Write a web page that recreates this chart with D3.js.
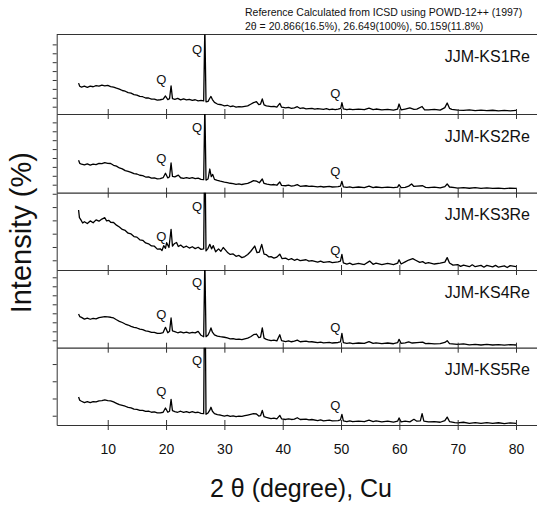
<!DOCTYPE html>
<html>
<head>
<meta charset="utf-8">
<script src="https://cdn.jsdelivr.net/npm/d3@7"></script>
<style>
  body { margin: 0; background: #fff; }
  svg { display: block; font-family: "Liberation Sans", Arial, sans-serif; }
</style>
</head>
<body>
<svg class="xrd"></svg>
<script>
// sample names, top to bottom
const samples = ["JJM-KS1Re", "JJM-KS2Re", "JJM-KS3Re", "JJM-KS4Re", "JJM-KS5Re"];

// x ticks (2 theta)
const xTicks = [10, 20, 30, 40, 50, 60, 70, 80];

// y ticks per panel (no labels drawn)
const yTicks = [
  [10, 20, 30, 40, 50, 60, 70, 80],
  [10, 20, 30, 40, 50, 60, 70, 80],
  [10, 20, 30, 40, 50, 60],
  [10, 20, 30, 40, 50, 60, 70, 80],
  [10, 20, 30, 40]
];

// Q (quartz) labels: 2theta position and height per panel
const qMain = { at: 25.3, h: [74.5, 74.5, 50.8, 74, 42] };
const qLow = { at: 19.2, h: [40, 39.2, 27.7, 39.2, 23.8] };
const qHigh = { at: 49, h: [25, 24.3, 17, 24.4, 16] };

// patterns, [2theta, intensity]
const ks1 = [[5.0,36.5],[5.2,33],[5.5,32],[6,33],[6.5,31.8],[7,33],[7.5,32.4],[8,33.6],[8.5,33],[9,34.2],[9.5,33.4],[10,34],[10.5,32.6],[11,32],[11.5,30.8],[12,29.8],[12.5,28.2],[13,27.4],[13.5,25.8],[14,25.2],[14.5,23.6],[15,23],[15.5,21.6],[16,21.2],[16.5,19.8],[17,19.8],[17.5,18.4],[18,18.6],[18.5,17.4],[19,17.8],[19.5,18.6],[19.9,22],[20.3,18],[20.6,19],[20.86,33.5],[21.1,19],[21.5,18.2],[22,19.4],[22.5,17.6],[23,18.8],[23.5,17.6],[24,18.2],[24.5,17],[25,17.8],[25.5,16.6],[26,17],[26.45,16.5],[26.65,100],[26.85,15.5],[27.2,16],[27.5,19.5],[27.7,21.5],[27.95,18],[28.3,14.8],[28.8,13],[29.5,12.2],[30,11],[30.5,11.6],[31,10.2],[31.5,10.8],[32,9.6],[32.5,10.2],[33,9.8],[33.5,10.4],[34,11],[34.5,12.8],[35,14.6],[35.5,15.6],[35.9,12.4],[36.2,13],[36.5,18.7],[36.8,12],[37.2,11],[37.5,10.6],[38,10],[38.5,10.4],[39,9.6],[39.5,13.8],[39.8,9.4],[40.5,8.6],[41,9.2],[41.5,8.2],[42,8.8],[42.5,10],[43,8],[43.5,8.6],[44,7.6],[45,8.2],[45.5,7.2],[46,7.8],[47,7],[47.5,7.8],[48,6.8],[48.5,7.4],[49,6.6],[49.5,7.2],[49.95,8],[50.15,14.5],[50.4,7.6],[51,6.6],[51.5,7.4],[52,6.8],[53,7.2],[54,6.6],[54.8,8.4],[55.5,6.8],[56,7.4],[57,6.4],[58,7],[59,6.2],[59.7,7.4],[59.95,13],[60.3,6.4],[61,7.4],[61.8,8.6],[62.5,7],[63,7.2],[63.9,10.2],[64.3,6.6],[65,6.4],[66,7],[67,6.2],[67.8,9],[68.2,14.2],[68.6,8.2],[69,7],[70,6.2],[71,5.8],[72,6.4],[73,5.6],[74,6.2],[75,5.6],[76,6],[77,5.4],[78,5.8],[79,5.4],[80,5.8]];

const ks2 = [[5.0,37.4],[5.2,34],[5.5,33],[6,32.2],[6.5,33.4],[7,32],[7.5,33.2],[8,32.6],[8.5,34],[9,33.6],[9.5,34.8],[10,34],[10.5,33.8],[11,31.8],[11.5,30.8],[12,28.8],[12.5,27.8],[13,25.8],[13.5,25],[14,23.9],[14.5,22.4],[15,22],[15.5,20.6],[16,20.1],[16.5,18.6],[17,18.8],[17.5,17.4],[18,17.6],[18.5,16.6],[19,16.8],[19.5,17.8],[19.9,22.8],[20.3,17.6],[20.6,19],[20.86,34.4],[21.1,19.4],[21.5,18.8],[22.1,20.8],[22.5,17.8],[23,17.2],[23.5,18],[24,17],[24.5,17.8],[25,16.8],[25.5,17.4],[26,16],[26.45,15.6],[26.65,100],[26.85,15.2],[27.2,16.4],[27.5,27.6],[27.75,19],[28,21.5],[28.3,16],[28.8,14.8],[29.3,14],[30,13],[30.5,12.4],[31,11.6],[31.5,11.2],[32,10.4],[32.5,11],[33,10.2],[33.5,10.8],[34,11.4],[34.5,12.8],[35,14.5],[35.5,14],[36,12.2],[36.5,16.4],[36.8,11.4],[37.3,10.6],[38,9.8],[38.5,10.2],[39,9.4],[39.5,13],[39.8,9.2],[40.5,8.8],[41,9.4],[41.5,8.4],[42,9],[42.5,10],[43,8.2],[44,8.8],[44.5,8],[45,8.4],[46,7.6],[46.5,8.2],[47,7.4],[48,8],[48.5,7.4],[49.5,7.8],[49.9,8.4],[50.15,13.8],[50.4,7.6],[51,7],[51.5,7.6],[52,6.8],[53,7.4],[54,6.8],[54.8,8.5],[55.5,6.8],[56,7.4],[57,6.6],[58,7.2],[59,6.6],[59.7,7.2],[59.95,10],[60.3,6.8],[61,7],[61.6,8.4],[62.1,10.8],[62.5,8],[63,8.4],[64,8.8],[64.5,7],[65,6.8],[66,7.2],[67,6.4],[67.8,7.8],[68.2,10.8],[68.6,7.4],[69.5,6.6],[70,6.2],[71,6.8],[72,6],[73,6.6],[74,5.8],[75,6.4],[76,5.8],[77,6.2],[78,5.6],[79,6.2],[80,5.8]];

const ks3 = [[5.0,47.8],[5.15,42],[5.4,40.4],[5.7,38],[6,39],[6.5,37.6],[7,39.6],[7.5,38.2],[8,40.4],[8.5,39.4],[9,41],[9.5,42],[9.8,39.6],[10.2,40],[10.5,38.6],[11,38.4],[11.5,36.4],[12,35],[12.5,33.2],[13,32.4],[13.5,30.4],[14,29.8],[14.5,27.8],[15,27.4],[15.5,25.4],[16,25],[16.5,23],[17,22.4],[17.5,20.8],[18,20.6],[18.5,18.4],[19,18.6],[19.3,17.4],[19.6,21],[19.9,19],[20.1,23.2],[20.5,19.6],[20.86,33.3],[21.1,20.6],[21.4,22.4],[21.8,23.4],[22.1,20.4],[22.5,21.4],[23,19.6],[23.5,20.6],[24,19.2],[24.5,20.2],[25,18.8],[25.5,19.8],[26,18.2],[26.45,18.6],[26.65,100],[26.85,17],[27.2,19],[27.5,22],[27.8,18.6],[28.1,21],[28.5,16.4],[29,18.6],[29.4,16.8],[29.8,19.6],[30.2,17.6],[30.6,15.6],[31,14.4],[31.5,14.8],[32,13],[32.5,13.6],[33,12],[33.5,12.8],[34,14.4],[34.5,16.6],[35.2,20.7],[35.6,15.7],[36,16.2],[36.4,22],[36.8,14.6],[37.2,14.2],[37.6,12.6],[38,12.8],[38.5,11.6],[39,12.4],[39.5,14.6],[39.9,11.2],[40.5,11.6],[41,10.4],[41.5,11.2],[42,10],[42.5,10.8],[43,9.8],[44,10.4],[44.5,9.4],[45,9.8],[46,8.6],[46.5,9.4],[47,8.4],[48,9],[48.5,8.2],[49.5,8.8],[49.9,9.4],[50.15,14.5],[50.4,8],[51,7.2],[51.5,7.8],[52,6.8],[53,7.6],[54,6.8],[54.9,9.4],[55.5,7],[56,7.8],[57,6.8],[58,7.6],[59,6.8],[59.7,7.8],[59.95,10.4],[60.3,7.2],[61,8.8],[61.6,10.2],[62.3,11.2],[62.8,10],[63.5,8.4],[64,9],[64.5,7.6],[65,8.2],[66,7.2],[67,7.8],[67.8,8.6],[68.2,12],[68.6,8],[69.2,6.4],[70,6.8],[70.5,5.4],[71,6.4],[72,5.2],[72.5,6.6],[73,5.2],[74,6.2],[74.5,4.8],[75,6.2],[76,5],[76.5,6.2],[77,4.8],[78,5.8],[78.5,4.6],[79,6],[80,5.2]];

const ks4 = [[5.0,39.2],[5.2,36.4],[5.5,35.5],[6,33.6],[6.5,34.6],[7,33.4],[7.5,34.4],[8,33.8],[8.5,35.2],[9,35.8],[9.5,36.4],[10,36],[10.5,35.6],[11,34.8],[11.5,32.8],[12,31.1],[12.5,29.8],[13,28.1],[13.5,27],[14,25.5],[14.5,24.4],[15,23.7],[15.5,22.4],[16,21.8],[16.5,20.4],[17,20],[17.5,18.8],[18,18.9],[18.5,17.6],[19,17.8],[19.5,18.6],[19.9,24.4],[20.3,18.4],[20.6,20],[20.86,34.8],[21.1,20.4],[21.5,19.6],[22,18.4],[22.5,19.4],[23,18.2],[23.5,19],[24,18],[24.5,18.8],[25,18.2],[25.5,20],[26,15.6],[26.45,14],[26.65,100],[26.85,14],[27.2,16],[27.5,20],[27.7,23.7],[27.95,19],[28.3,16],[28.8,14.6],[29.3,14],[30,13.4],[30.5,12.6],[31,11.6],[31.5,11.8],[32,11],[32.5,11.4],[33,10.8],[33.5,11.6],[34,12.4],[34.5,14],[35,16.2],[35.5,17],[35.9,13],[36.2,13.6],[36.5,23.7],[36.8,12.4],[37.2,11],[37.5,10.4],[38,9.6],[38.5,10.2],[39,9.4],[39.5,16.2],[39.8,9.6],[40.5,8.6],[41,9.4],[41.5,8.4],[42,9],[42.5,10.2],[43,8.4],[44,9],[44.5,8.2],[45,8.4],[46,7.4],[46.5,8],[47,7.2],[48,7.8],[48.5,7],[49.5,7.6],[49.9,8.2],[50.15,17.8],[50.4,7.4],[51,6.6],[51.5,7.2],[52,6.4],[53,7],[54,6.6],[54.8,8.6],[55.5,6.6],[56,7.2],[57,6.4],[58,7],[59,6.2],[59.7,7.4],[59.95,11.1],[60.3,6.6],[61,7.2],[61.6,8.2],[62.2,7],[63,7.4],[64,8],[64.5,6.4],[65,6.6],[66,6],[67,6.4],[67.8,7.6],[68.2,9.6],[68.6,6.4],[69.5,5.8],[70,5.4],[71,6],[72,5],[73,5.6],[74,4.8],[75,5.4],[76,4.8],[77,5.2],[78,4.6],[79,5.2],[80,4.8]];

const ks5 = [[5.0,20.9],[5.2,19],[5.5,18.4],[6,17.6],[6.5,18.2],[7,17.6],[7.5,18.2],[8,18],[8.5,18.6],[9,18.8],[9.5,19.2],[10,18.8],[10.5,18.6],[11,18],[11.5,17.2],[12,16.4],[12.5,16],[13,15.5],[13.5,14.8],[14,14.5],[14.5,13.8],[15,13.7],[15.5,13.1],[16,13.1],[16.5,12.5],[17,12.6],[17.5,12],[18,12.2],[18.5,11.6],[19,11.7],[19.5,12],[19.9,14.5],[20.3,12],[20.6,12.6],[20.86,19.5],[21.1,12.9],[21.5,12.4],[22,12],[22.5,12.6],[23,11.9],[23.5,12.4],[24,11.8],[24.5,12.3],[25,11.8],[25.5,12],[26,11.4],[26.45,11.2],[26.65,100],[26.85,10.8],[27.2,11.6],[27.5,13.2],[27.7,14.9],[27.95,12.6],[28.3,11.2],[28.8,10.6],[29.3,10.4],[30,9.8],[30.5,10.2],[31,9.6],[31.5,9.9],[32,9.4],[32.5,9.8],[33,9.6],[33.5,10],[34,10.4],[34.5,10.8],[35,11.2],[35.5,11],[35.9,9.8],[36.2,10],[36.5,13.1],[36.8,9.4],[37.2,9],[37.5,8.8],[38,8.3],[38.5,8.6],[39,8.2],[39.5,10.2],[39.8,8.2],[40.5,7.8],[41,8.2],[41.5,7.8],[42,8],[42.5,8.8],[43,7.8],[44,8],[44.5,7.6],[45,7.8],[46,7.2],[46.5,7.6],[47,7],[48,7.4],[48.5,7],[49.5,7.2],[49.9,7.6],[50.15,10.8],[50.4,7],[51,6.6],[51.5,7],[52,6.5],[53,6.9],[54,6.5],[54.8,7.4],[55.5,6.6],[56,7],[57,6.4],[58,6.8],[59,6.3],[59.7,6.8],[59.95,8.7],[60.3,6.4],[61,6.8],[61.8,6.4],[62.5,7.9],[63,6.8],[63.6,7],[63.9,11.2],[64.2,6.8],[65,6.4],[66,6.6],[67,6.2],[67.8,7.2],[68.2,9.2],[68.6,6.6],[69.5,6],[70,5.8],[71,6.2],[72,5.6],[73,6],[74,5.5],[75,6],[76,5.6],[77,5.9],[78,5.4],[79,5.8],[80,5.6]];

const patterns = [ks1, ks2, ks3, ks4, ks5];

// y domain of each panel
const yDomains = [[1.8, 91.1], [1.0, 89.4], [2.7, 60.8], [1.8, 88.1], [4.6, 49.5]];

// layout
const width = 537, height = 505;
const left = 56.7;
const edges = [34.5, 114, 192.7, 270, 347.7, 425];
const axisColor = "#333";

const svg = d3.select(".xrd")
  .attr("width", width)
  .attr("height", height)
  .attr("viewBox", [0, 0, width, height]);

const x = d3.scaleLinear().domain([1.25, 83.6]).range([left, width]);

// header text
const header = svg.append("text")
  .attr("x", 245)
  .attr("font-size", 10.5)
  .attr("fill", "#111");
header.append("tspan").attr("x", 245).attr("y", 16)
  .text("Reference Calculated from ICSD using POWD-12++ (1997)");
header.append("tspan").attr("x", 245).attr("y", 29.5)
  .text("2θ = 20.866(16.5%), 26.649(100%), 50.159(11.8%)");

// top border
svg.append("line")
  .attr("x1", left).attr("x2", width)
  .attr("y1", edges[0]).attr("y2", edges[0])
  .attr("stroke", axisColor).attr("stroke-width", 1.2);

samples.forEach((name, i) => {
  const top = edges[i], bottom = edges[i + 1];
  const y = d3.scaleLinear().domain(yDomains[i]).range([bottom, top]);

  const g = svg.append("g");

  g.append("clipPath").attr("id", `clip${i}`)
    .append("rect")
    .attr("x", left).attr("y", top)
    .attr("width", width - left).attr("height", bottom - top);

  // trace
  const line = d3.line().x(d => x(d[0])).y(d => y(d[1]));
  g.append("path")
    .datum(patterns[i])
    .attr("clip-path", `url(#clip${i})`)
    .attr("fill", "none")
    .attr("stroke", "#000")
    .attr("stroke-width", 1.3)
    .attr("stroke-linejoin", "round")
    .attr("d", line);

  // left axis
  g.append("g")
    .attr("transform", `translate(${left},0)`)
    .call(d3.axisLeft(y).tickValues(yTicks[i]).tickSize(4).tickSizeOuter(0).tickFormat(""))
    .call(a => a.selectAll("path, line").attr("stroke", axisColor));

  // bottom axis, ticks crossing the boundary
  const last = i === samples.length - 1;
  g.append("g")
    .attr("transform", `translate(0,${bottom})`)
    .call(d3.axisBottom(x).tickValues(xTicks).tickSize(5).tickSizeOuter(0)
      .tickPadding(14).tickFormat(last ? d3.format("d") : ""))
    .call(a => a.selectAll("path").attr("stroke", axisColor).attr("stroke-width", 1.2))
    .call(a => a.selectAll("line").attr("y1", -5).attr("stroke", axisColor))
    .call(a => a.selectAll("text").attr("font-size", 14).attr("fill", "#111")
      .attr("font-family", "Liberation Sans, Arial, sans-serif"));

  // sample name
  g.append("text")
    .attr("x", width - 7)
    .attr("y", top + 22)
    .attr("text-anchor", "end")
    .attr("dominant-baseline", "central")
    .attr("font-size", 16)
    .attr("fill", "#111")
    .text(name);

  // quartz markers
  [qMain, qLow, qHigh].forEach(q => {
    g.append("text")
      .attr("x", x(q.at))
      .attr("y", y(q.h[i]))
      .attr("text-anchor", "middle")
      .attr("dominant-baseline", "central")
      .attr("font-size", 13)
      .attr("fill", "#111")
      .text("Q");
  });
});

// axis titles
svg.append("text")
  .attr("x", 301)
  .attr("y", 497)
  .attr("text-anchor", "middle")
  .attr("font-size", 25)
  .attr("fill", "#111")
  .text("2 θ (degree), Cu");

svg.append("text")
  .attr("transform", `translate(31,${(edges[0] + edges[5]) / 2 + 3}) rotate(-90)`)
  .attr("text-anchor", "middle")
  .attr("font-size", 29)
  .attr("fill", "#111")
  .text("Intensity (%)");
</script>
</body>
</html>
